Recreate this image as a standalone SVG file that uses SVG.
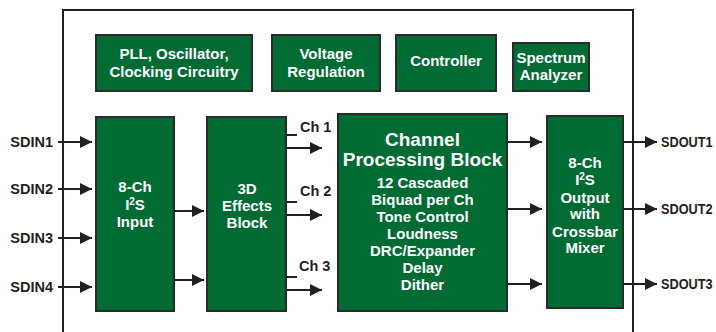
<svg xmlns="http://www.w3.org/2000/svg" width="716" height="332" viewBox="0 0 716 332">
  <style>
    .blk { fill: #006b33; stroke: #2b2b2b; stroke-width: 2; }
    .bt { font-family: "Liberation Sans", Arial, sans-serif; font-weight: bold; fill: #ffffff; text-anchor: middle; font-size: 15px; }
    .big { font-size: 19px; }
    .lbl { font-family: "Liberation Sans", Arial, sans-serif; font-weight: bold; fill: #231f20; font-size: 14.5px; }
    .wire { stroke: #231f20; stroke-width: 2; fill: none; }
    .arr { stroke: #231f20; stroke-width: 2; fill: none; marker-end: url(#head); }
  </style>
  <defs>
    <marker id="head" markerUnits="userSpaceOnUse" markerWidth="13" markerHeight="12" refX="12" refY="6" orient="auto">
      <path d="M0,0 L12,6 L0,12 Z" fill="#231f20"/>
    </marker>
  </defs>
  <rect width="716" height="332" fill="#ffffff"/>

  <!-- chip outline, open at the bottom -->
  <path class="wire" d="M63,340 V10 H633 V340"/>

  <g id="pll">
    <rect class="blk" x="96" y="35" width="156" height="56"/>
    <text class="bt" x="174" y="59">PLL, Oscillator,</text>
    <text class="bt" x="174" y="77">Clocking Circuitry</text>
  </g>
  <g id="voltage">
    <rect class="blk" x="272" y="35" width="108" height="56"/>
    <text class="bt" x="326" y="59">Voltage</text>
    <text class="bt" x="326" y="77">Regulation</text>
  </g>
  <g id="controller">
    <rect class="blk" x="396" y="35" width="100" height="56"/>
    <text class="bt" x="446" y="66">Controller</text>
  </g>
  <g id="spectrum">
    <rect class="blk" x="513" y="43" width="76" height="48"/>
    <text class="bt" x="551" y="63">Spectrum</text>
    <text class="bt" x="551" y="80">Analyzer</text>
  </g>

  <g id="i2s-input">
    <rect class="blk" x="96" y="117" width="78" height="194"/>
    <text class="bt" x="135" y="192">8-Ch</text>
    <text class="bt" x="135" y="210">I<tspan font-size="10" dy="-5">2</tspan><tspan dy="5">S</tspan></text>
    <text class="bt" x="135" y="227">Input</text>
  </g>
  <g id="effects">
    <rect class="blk" x="207" y="117" width="79" height="194"/>
    <text class="bt" x="247" y="194">3D</text>
    <text class="bt" x="247" y="211">Effects</text>
    <text class="bt" x="247" y="228">Block</text>
  </g>
  <g id="processing">
    <rect class="blk" x="338" y="114" width="169" height="197"/>
    <text class="bt big" x="422.5" y="146">Channel</text>
    <text class="bt big" x="422.5" y="166">Processing Block</text>
    <text class="bt" x="422.5" y="188">12 Cascaded</text>
    <text class="bt" x="422.5" y="205">Biquad per Ch</text>
    <text class="bt" x="422.5" y="222">Tone Control</text>
    <text class="bt" x="422.5" y="239">Loudness</text>
    <text class="bt" x="422.5" y="256">DRC/Expander</text>
    <text class="bt" x="422.5" y="273">Delay</text>
    <text class="bt" x="422.5" y="290">Dither</text>
  </g>
  <g id="i2s-output">
    <rect class="blk" x="547" y="116" width="76" height="192"/>
    <text class="bt" x="585" y="168">8-Ch</text>
    <text class="bt" x="585" y="185">I<tspan font-size="10" dy="-5">2</tspan><tspan dy="5">S</tspan></text>
    <text class="bt" x="585" y="203">Output</text>
    <text class="bt" x="585" y="219">with</text>
    <text class="bt" x="585" y="237">Crossbar</text>
    <text class="bt" x="585" y="253">Mixer</text>
  </g>

  <g id="connectors">
    <!-- serial inputs -->
    <line class="arr" x1="58" y1="142" x2="92" y2="142"/>
    <line class="arr" x1="58" y1="189" x2="92" y2="189"/>
    <line class="arr" x1="58" y1="238" x2="92" y2="238"/>
    <line class="arr" x1="58" y1="287" x2="92" y2="287"/>
    <!-- input to 3D effects -->
    <line class="arr" x1="175" y1="211" x2="204" y2="211"/>
    <line class="arr" x1="175" y1="280" x2="204" y2="280"/>
    <!-- channel taps -->
    <line class="wire" x1="287" y1="135" x2="297" y2="135"/>
    <line class="arr" x1="287" y1="148" x2="322" y2="148"/>
    <line class="wire" x1="287" y1="202" x2="297" y2="202"/>
    <line class="arr" x1="287" y1="215" x2="322" y2="215"/>
    <line class="wire" x1="287" y1="277" x2="297" y2="277"/>
    <line class="arr" x1="287" y1="290" x2="322" y2="290"/>
    <!-- processing to output -->
    <line class="arr" x1="508" y1="142" x2="542" y2="142"/>
    <line class="arr" x1="508" y1="209" x2="542" y2="209"/>
    <line class="arr" x1="508" y1="284" x2="542" y2="284"/>
    <!-- serial outputs -->
    <line class="arr" x1="624" y1="142" x2="657" y2="142"/>
    <line class="arr" x1="624" y1="209" x2="657" y2="209"/>
    <line class="arr" x1="624" y1="284" x2="657" y2="284"/>
  </g>

  <g id="labels">
    <text class="lbl" x="53" y="147" text-anchor="end">SDIN1</text>
    <text class="lbl" x="53" y="194" text-anchor="end">SDIN2</text>
    <text class="lbl" x="53" y="243" text-anchor="end">SDIN3</text>
    <text class="lbl" x="53" y="292" text-anchor="end">SDIN4</text>
    <text class="lbl" x="300" y="132">Ch 1</text>
    <text class="lbl" x="300" y="196">Ch 2</text>
    <text class="lbl" x="299" y="271">Ch 3</text>
    <!-- output pin names are narrowed so they fit at the right margin -->
    <text class="lbl" transform="translate(661,147) scale(0.88,1)">SDOUT1</text>
    <text class="lbl" transform="translate(661,214) scale(0.88,1)">SDOUT2</text>
    <text class="lbl" transform="translate(661,289) scale(0.88,1)">SDOUT3</text>
  </g>
</svg>
